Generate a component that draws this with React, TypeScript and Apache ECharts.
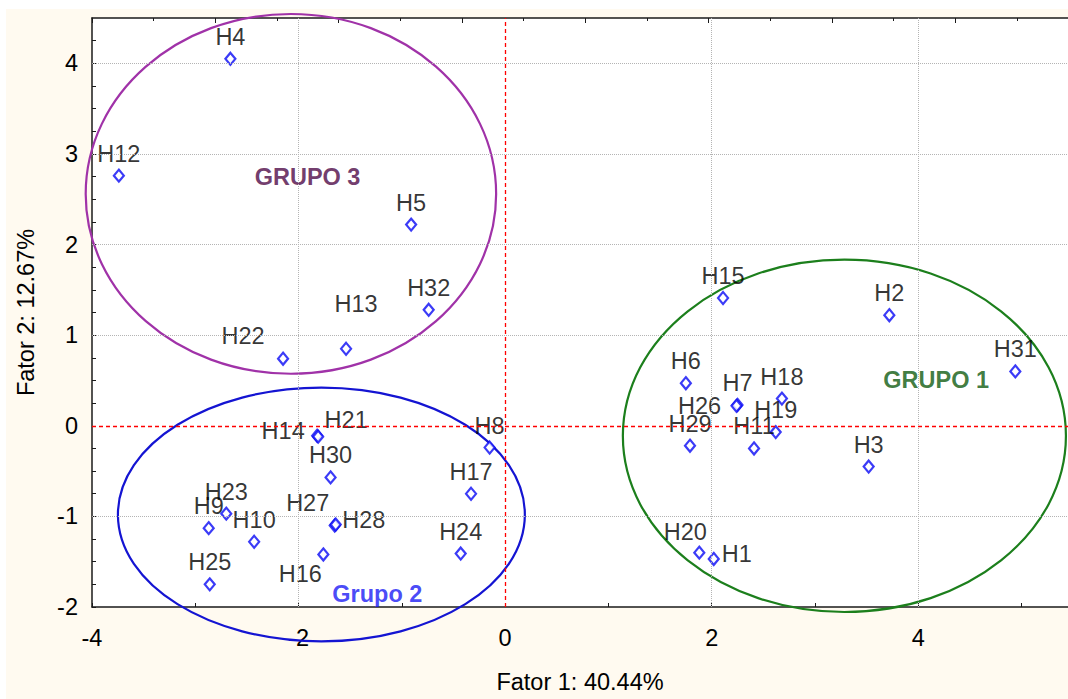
import React, { useEffect, useRef } from "react";
import * as echarts from "echarts";

// ---- data ----
const pointNames = [
  "H1", "H2", "H3", "H4", "H5", "H6", "H7", "H8", "H9", "H10",
  "H11", "H12", "H13", "H14", "H15", "H16", "H17", "H18", "H19", "H20",
  "H21", "H22", "H23", "H24", "H25", "H26", "H27", "H28", "H29", "H30",
  "H31", "H32",
];
const factor1 = [
  2.02, 3.72, 3.52, -2.66, -0.91, 1.75, 2.25, -0.15, -2.87, -2.43,
  2.41, -3.74, -1.54, -1.82, 2.11, -1.76, -0.33, 2.68, 2.62, 1.88,
  -1.81, -2.15, -2.70, -0.43, -2.86, 2.24, -1.65, -1.64, 1.79, -1.69,
  4.94, -0.74,
];
const factor2 = [
  -1.47, 1.22, -0.45, 4.05, 2.22, 0.47, 0.23, -0.24, -1.13, -1.28,
  -0.25, 2.76, 0.85, -0.11, 1.41, -1.42, -0.75, 0.30, -0.07, -1.40,
  -0.12, 0.74, -0.97, -1.41, -1.75, 0.22, -1.10, -1.09, -0.22, -0.57,
  0.60, 1.28,
];

const groupNames = ["GRUPO 1", "Grupo 2", "GRUPO 3"];
const groupCenterX = [3.285, -1.779, -2.074];
const groupCenterY = [-0.111, -0.979, 2.559];
const groupRadiusX = [2.145, 1.97, 1.987];
const groupRadiusY = [1.944, 1.40, 1.985];
const groupLabelX = [4.174, -1.237, -1.913];
const groupLabelY = [0.503, -1.854, 2.75];

const xTickLabels = [-4, -2, 0, 2, 4];
const yTickLabels = [-2, -1, 0, 1, 2, 3, 4];
const xGridValues = [-2, 2, 4];
const yGridValues = [-1, 1, 2, 3, 4];
const zeroLines = [0];

const xTitle = "Fator 1: 40.44%";
const yTitle = "Fator 2: 12.67%";

// ---- styles ----
const defaultOffset = [0, -22];
const specialOffsets: Record<string, number[]> = {
  H1: [23, -5],
  H13: [10, -45],
  H14: [-34, -5],
  H21: [28, -17],
  H22: [-40, -23],
  H27: [-27, -22],
  H28: [28, -5],
  H16: [-23, 20],
  H20: [-14, -21],
  H26: [-37, 0],
};
const ellipseColors = ["#1C7F1C", "#1414D2", "#A032A8"];
const groupTextColors = ["#0F5A0F", "#1A1AF5", "#4E0846"];
const FONT = "'Liberation Sans', Arial, sans-serif";
const FS = 23.5;

export default function App() {
  const ref = useRef<HTMLDivElement>(null);

  useEffect(() => {
    if (!ref.current) return;
    const chart = echarts.init(ref.current, undefined, { renderer: "svg" });

    const gridLineStyle = { color: "#b4b4b4", type: "dotted", width: 1 };
    const zeroLineStyle = { color: "#ff0000", type: [4, 3], width: 1.3, opacity: 1 };

    const option: any = {
      animation: false,
      backgroundColor: "#FFFAF0",
      textStyle: { fontFamily: FONT },
      grid: {
        left: 84,
        top: 9,
        right: 0,
        bottom: 90,
        show: true,
        backgroundColor: "#ffffff",
        borderWidth: 0,
      },
      xAxis: [
        {
          type: "value",
          position: "bottom",
          min: -4,
          max: 5.45,
          interval: 1,
          axisLine: { show: true, onZero: false, lineStyle: { color: "#1a1a1a", width: 1.5 } },
          axisTick: { show: true, inside: true, length: 4, lineStyle: { color: "#1a1a1a" } },
          axisLabel: {
            margin: 19,
            fontSize: FS,
            color: "#000",
            fontFamily: FONT,
            showMaxLabel: false,
            formatter: (v: number) => (xTickLabels.includes(v) ? String(v) : ""),
          },
          splitLine: { show: false },
          name: xTitle,
          nameLocation: "middle",
          nameGap: 63,
          nameTextStyle: { fontSize: FS, color: "#000", fontFamily: FONT },
        },
        {
          type: "value",
          position: "top",
          min: 0,
          max: 15.83,
          interval: 2,
          axisLine: { show: true, onZero: false, lineStyle: { color: "#1a1a1a", width: 1.5 } },
          axisTick: { show: true, inside: true, length: 5, lineStyle: { color: "#1a1a1a" } },
          minorTick: { show: true, splitNumber: 2, length: 3, lineStyle: { color: "#1a1a1a" } },
          axisLabel: { show: false },
          splitLine: { show: false },
        },
      ],
      yAxis: {
        type: "value",
        min: -2,
        max: 4.5,
        interval: 0.25,
        axisLine: { show: true, onZero: false, lineStyle: { color: "#1a1a1a", width: 1.5 } },
        axisTick: { show: true, inside: true, length: 4, lineStyle: { color: "#1a1a1a" } },
        axisLabel: {
          margin: 14,
          fontSize: FS,
          color: "#000",
          fontFamily: FONT,
          showMaxLabel: false,
          formatter: (v: number) => (yTickLabels.includes(v) ? String(v) : ""),
        },
        splitLine: { show: false },
        name: yTitle,
        nameLocation: "middle",
        nameGap: 54,
        nameTextStyle: { fontSize: FS, color: "#000", fontFamily: FONT },
      },
      series: [
        {
          type: "scatter",
          xAxisIndex: 0,
          yAxisIndex: 0,
          z: 2,
          silent: true,
          symbolSize: 1,
          itemStyle: { color: "rgba(0,0,0,0)" },
          data: groupNames.map((n, i) => ({
            name: n,
            value: [groupLabelX[i], groupLabelY[i]],
            label: { color: groupTextColors[i] },
          })),
          label: {
            show: true,
            position: "inside",
            formatter: (p: any) => p.name,
            fontSize: FS,
            fontWeight: "bold",
            fontFamily: FONT,
          },
          markLine: {
            silent: true,
            symbol: "none",
            label: { show: false },
            animation: false,
            data: [
              ...xGridValues.map((v) => ({ xAxis: v, lineStyle: gridLineStyle })),
              ...yGridValues.map((v) => ({ yAxis: v, lineStyle: gridLineStyle })),
            ],
          },
        },
        {
          type: "line",
          xAxisIndex: 0,
          yAxisIndex: 0,
          z: 2.5,
          silent: true,
          data: [],
          markLine: {
            silent: true,
            symbol: "none",
            label: { show: false },
            animation: false,
            lineStyle: zeroLineStyle,
            data: [
              ...zeroLines.map((v) => ({ xAxis: v })),
              ...zeroLines.map((v) => ({ yAxis: v })),
            ],
          },
        },
        {
          type: "custom",
          xAxisIndex: 0,
          yAxisIndex: 0,
          z: 3,
          silent: true,
          clip: false,
          encode: { x: 0, y: 1 },
          data: groupNames.map((n, i) => [
            groupCenterX[i],
            groupCenterY[i],
            groupRadiusX[i],
            groupRadiusY[i],
          ]),
          renderItem: (params: any, api: any) => {
            const c = api.coord([api.value(0), api.value(1)]);
            const s = api.size([api.value(2), api.value(3)]);
            return {
              type: "ellipse",
              shape: { cx: c[0], cy: c[1], rx: s[0], ry: s[1] },
              style: { fill: "none", stroke: ellipseColors[params.dataIndex], lineWidth: 2.2 },
            };
          },
        },
        {
          type: "scatter",
          xAxisIndex: 0,
          yAxisIndex: 0,
          z: 4,
          silent: true,
          symbol: "diamond",
          symbolSize: [10, 12],
          itemStyle: { color: "#ffffff", borderColor: "#0A0AF5", borderWidth: 2.2 },
          data: pointNames.map((n, i) => ({
            name: n,
            value: [factor1[i], factor2[i]],
            label: { offset: specialOffsets[n] || defaultOffset },
          })),
          label: {
            show: true,
            position: "inside",
            formatter: (p: any) => p.name,
            color: "#000",
            fontSize: FS,
            fontFamily: FONT,
          },
        },
      ],
    };

    chart.setOption(option);
    return () => chart.dispose();
  }, []);

  return (
    <div
      style={{
        position: "fixed",
        left: 0,
        top: 0,
        width: 1068,
        height: 699,
        background: "#ffffff",
        overflow: "hidden",
      }}
    >
      <div
        ref={ref}
        style={{ position: "absolute", left: 6, top: 9, width: 1062, height: 690 }}
      />
    </div>
  );
}
